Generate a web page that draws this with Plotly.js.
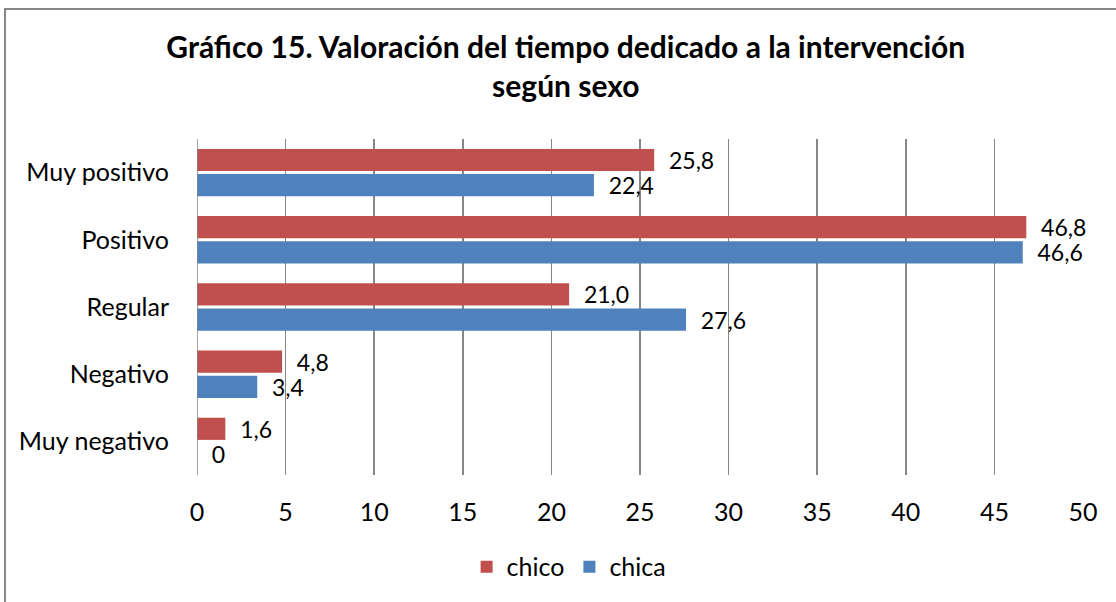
<!DOCTYPE html>
<html>
<head>
<meta charset="utf-8">
<script src="https://cdn.plot.ly/plotly-3.0.1.min.js"></script>
<style>html,body{margin:0;padding:0;background:#fff;}#chart{width:1116px;height:602px;}svg text{font-variant-ligatures:none;}</style>
</head>
<body>
<div id="chart"></div>
<script>
const categories = ["Muy positivo", "Positivo", "Regular", "Negativo", "Muy negativo"];
const chicoValues = [25.8, 46.8, 21.0, 4.8, 1.6];
const chicaValues = [22.4, 46.6, 27.6, 3.4, 0];
const xTickValues = [0, 5, 10, 15, 20, 25, 30, 35, 40, 45, 50];

function fmt(v) { return "\u00a0\u00a0" + (v === 0 ? "0" : v.toFixed(1).replace(".", ",")); }

const FONT = "Lato, Liberation Sans, Arial, sans-serif";
const FS = 25;

const traces = [
  {
    type: "bar", orientation: "h", name: "chico",
    y: categories, x: chicoValues,
    text: chicoValues.map(fmt), textposition: "outside", cliponaxis: false, constraintext: "none",
    textfont: {family: FONT, size: 23, color: "#000"},
    marker: {color: "#C0504D"}
  },
  {
    type: "bar", orientation: "h", name: "chica",
    y: categories, x: chicaValues,
    text: chicaValues.map(fmt), textposition: "outside", cliponaxis: false, constraintext: "none",
    textfont: {family: FONT, size: 23, color: "#000"},
    marker: {color: "#4F81BD"}
  }
];

function px(x) { return (x - 197) / 886; }
function py(y) { return (477 - y) / 338; }

const layout = {
  width: 1116, height: 602,
  margin: {l: 197, r: 33, t: 139, b: 125},
  paper_bgcolor: "#fff", plot_bgcolor: "#fff",
  font: {family: FONT, size: FS, color: "#000"},
  title: {
    text: "<b>Gráfico 15. Valoración del tiempo dedicado a la intervención<br>según sexo</b>",
    font: {family: FONT, size: 30, color: "#000"},
    xref: "container", x: 0.507, xanchor: "center",
    yref: "container", y: 0.904, yanchor: "top"
  },
  barmode: "group", bargap: 0.25, bargroupgap: 0.12,
  xaxis: {
    range: [0, 50], tickvals: xTickValues, ticktext: xTickValues.map(String),
    showgrid: true, gridcolor: "#868686", gridwidth: 1.5,
    zeroline: false, showline: false,
    ticks: "outside", ticklen: 15, tickcolor: "rgba(0,0,0,0)",
    tickfont: {family: FONT, size: FS, color: "#000"}
  },
  yaxis: {
    autorange: "reversed", type: "category",
    showgrid: false, zeroline: false, showline: false,
    ticks: "outside", ticklen: 22, tickcolor: "rgba(0,0,0,0)",
    tickfont: {family: FONT, size: FS, color: "#000"}
  },
  legend: {
    orientation: "h", x: 0.42, xanchor: "center", y: -0.205, yanchor: "top",
    font: {family: FONT, size: FS, color: "#000"},
    itemwidth: 30, traceorder: "normal"
  },
  showlegend: true,
  annotations: [
    {xref: "paper", yref: "paper", x: px(4), y: py(7), xanchor: "left", yanchor: "top",
     text: " ", showarrow: false, width: 1130, height: 620,
     bordercolor: "#868686", borderwidth: 2, borderpad: 0, bgcolor: "rgba(0,0,0,0)"}
  ],
  shapes: [
    {type: "line", xref: "x", yref: "paper", x0: 0, x1: 0, y0: 0, y1: 1,
     line: {color: "#868686", width: 1.5}}
  ]
};

Plotly.newPlot("chart", traces, layout, {displayModeBar: false, staticPlot: true});
</script>
</body>
</html>
